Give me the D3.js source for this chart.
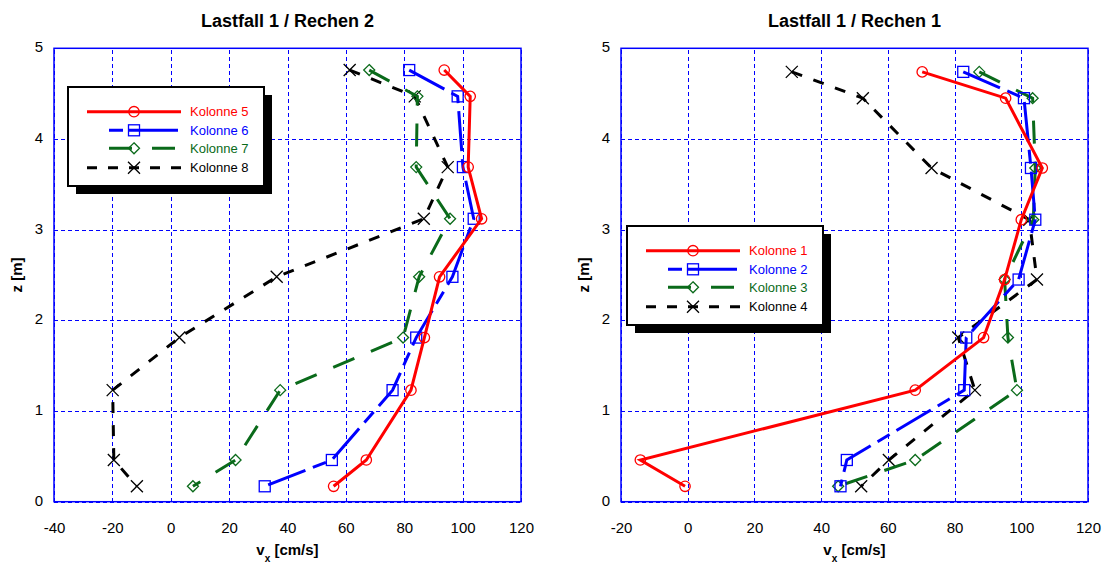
<!DOCTYPE html>
<html>
<head>
<meta charset="utf-8">
<script src="https://cdn.jsdelivr.net/npm/d3@7"></script>
<style>
  body { margin: 0; background: #fff; }
  svg { font-family: "Liberation Sans", Arial, sans-serif; }
</style>
</head>
<body>
<div id="chart"></div>
<script>
// Geschwindigkeitsprofile v_x ueber z, zwei Rechen

// z heights of the measuring points [m]
var zRechen2 = [4.76, 4.47, 3.69, 3.12, 2.48, 1.81, 1.23, 0.46, 0.17];
var zRechen1 = [4.74, 4.45, 3.68, 3.11, 2.45, 1.81, 1.23, 0.46, 0.17];

// v_x [cm/s], Rechen 2
var kolonne5 = [93.7, 102.6, 101.9, 106.5, 92.1, 86.9, 82.3, 67, 55.8];
var kolonne6 = [81.7, 98.3, 100.1, 103.8, 96.5, 84.1, 76, 55.2, 32.2];
var kolonne7 = [68, 84.5, 84.1, 95.7, 85.1, 79.6, 37.5, 22.2, 7.6];
var kolonne8 = [61.3, 83.6, 94.9, 86.7, 36.3, 2.95, -19.9, -19.5, -11.6];

// v_x [cm/s], Rechen 1
var kolonne1 = [70.3, 95.3, 106.3, 100, 95, 88.7, 68.2, -14.2, -0.8];
var kolonne2 = [82.6, 100.8, 102.9, 104.2, 99.2, 83.5, 82.9, 47.7, 45.8];
var kolonne3 = [87.4, 103.4, 104.2, 103.6, 95, 96, 98.7, 68.2, 45.1];
var kolonne4 = [31.2, 52.5, 73.1, 102.4, 104.7, 81.1, 86.1, 60.3, 52];

var xTicksRechen2 = [-40, -20, 0, 20, 40, 60, 80, 100, 120];
var xTicksRechen1 = [-20, 0, 20, 40, 60, 80, 100, 120];
var zTicks = [0, 1, 2, 3, 4, 5];

var red = "#ff0000", blue = "#0000ff", green = "#0a6a1a", black = "#000000";

// line + marker styles, same order for both charts
var styles = [
  { color: red,   dash: null,          marker: "circle" },
  { color: blue,  dash: "40,8,14,8",   marker: "square" },
  { color: green, dash: "23,18",       marker: "diamond" },
  { color: black, dash: "11,12",       marker: "cross" }
];

var width = 1109, height = 566;

var svg = d3.select("#chart")
  .append("svg")
    .attr("width", width)
    .attr("height", height);

// plain hyphen minus like the original
var fmt = function(d) { return String(d); };

function drawMarker(g, type, x, y, color) {
  if (type == "circle") {
    g.append("circle").attr("cx", x).attr("cy", y).attr("r", 5.2)
      .attr("fill", "none").attr("stroke", color).attr("stroke-width", 1.3);
  } else if (type == "square") {
    g.append("rect").attr("x", x - 5.5).attr("y", y - 5.5).attr("width", 11).attr("height", 11)
      .attr("fill", "none").attr("stroke", color).attr("stroke-width", 1.3);
  } else if (type == "diamond") {
    g.append("path").attr("d", "M" + x + "," + (y - 5.5) + "L" + (x + 5.5) + "," + y + "L" + x + "," + (y + 5.5) + "L" + (x - 5.5) + "," + y + "Z")
      .attr("fill", "none").attr("stroke", color).attr("stroke-width", 1.3);
  } else {
    g.append("path").attr("d", "M" + (x - 6) + "," + (y - 6) + "L" + (x + 6) + "," + (y + 6) + "M" + (x + 6) + "," + (y - 6) + "L" + (x - 6) + "," + (y + 6))
      .attr("fill", "none").attr("stroke", color).attr("stroke-width", 1.3);
  }
}

function drawPanel(opts) {
  var left = opts.left, top = 48.3, w = 467, h = 453.4;

  var x = d3.scaleLinear().domain(opts.xDomain).range([left, left + w]);
  var y = d3.scaleLinear().domain([0, 5]).range([top + h, top]);

  var g = svg.append("g");

  // grid via axes
  var gx = g.append("g")
    .attr("transform", "translate(0," + (top + h) + ")")
    .call(d3.axisBottom(x).tickValues(opts.xTicks).tickFormat(fmt).tickSize(-h).tickPadding(21));
  gx.select(".domain").remove();
  gx.selectAll("line").attr("stroke", blue).attr("stroke-dasharray", "4,3")
    .attr("stroke-width", 1).attr("shape-rendering", "crispEdges");
  gx.selectAll("text").attr("font-size", 15).attr("fill", "#000");

  var gy = g.append("g")
    .attr("transform", "translate(" + left + ",0)")
    .call(d3.axisLeft(y).tickValues(zTicks).tickFormat(fmt).tickSize(-w).tickPadding(11));
  gy.select(".domain").remove();
  gy.selectAll("line").attr("stroke", blue).attr("stroke-dasharray", "4,3")
    .attr("stroke-width", 1).attr("shape-rendering", "crispEdges");
  gy.selectAll("text").attr("font-size", 15).attr("fill", "#000").attr("dy", "0.23em");

  g.append("rect")
    .attr("x", left).attr("y", top).attr("width", w).attr("height", h)
    .attr("fill", "none").attr("stroke", blue).attr("stroke-width", 1.5);

  // title and axis titles
  g.append("text")
    .attr("x", left + w / 2).attr("y", 26.5)
    .attr("text-anchor", "middle").attr("font-size", 18).attr("font-weight", "bold")
    .text(opts.title);

  var xt = g.append("text")
    .attr("x", left + w / 2).attr("y", 555)
    .attr("text-anchor", "middle").attr("font-size", 15).attr("font-weight", "bold");
  xt.append("tspan").text("v");
  xt.append("tspan").attr("font-size", 10).attr("dy", 7).text("x");
  xt.append("tspan").attr("dy", -7).text(" [cm/s]");

  g.append("text")
    .attr("transform", "translate(" + (left - 32) + "," + (top + h / 2) + ") rotate(-90)")
    .attr("text-anchor", "middle").attr("font-size", 15).attr("font-weight", "bold")
    .text("z [m]");

  // series, drawn from last to first so red sits on top
  var line = d3.line()
    .x(function(d) { return x(d.v); })
    .y(function(d) { return y(d.z); });

  var series = opts.series.map(function(s, i) {
    return {
      name: opts.names[i],
      style: styles[i],
      points: s.map(function(v, j) { return { v: v, z: opts.z[j] }; })
    };
  });

  series.slice().reverse().forEach(function(s) {
    var sg = g.append("g");
    sg.append("path")
      .datum(s.points)
      .attr("d", line)
      .attr("fill", "none")
      .attr("stroke", s.style.color)
      .attr("stroke-width", 3)
      .attr("stroke-dasharray", s.style.dash);
    s.points.forEach(function(p) {
      drawMarker(sg, s.style.marker, x(p.v), y(p.z), s.style.color);
    });
  });

  // legend
  var lx = opts.legend[0], ly = opts.legend[1], lw = 196, lh = 99;
  var lg = g.append("g");
  lg.append("rect").attr("x", lx + 8).attr("y", ly + 8).attr("width", lw).attr("height", lh).attr("fill", "#000");
  lg.append("rect").attr("x", lx).attr("y", ly).attr("width", lw).attr("height", lh)
    .attr("fill", "#fff").attr("stroke", "#000").attr("stroke-width", 2);

  var rows = [24.7, 43.3, 61.3, 80.7];
  series.forEach(function(s, i) {
    var ry = ly + rows[i];
    lg.append("line")
      .attr("x1", lx + 19).attr("x2", lx + 113).attr("y1", ry).attr("y2", ry)
      .attr("stroke", s.style.color).attr("stroke-width", 3)
      .attr("stroke-dasharray", s.style.dash ? (i == 1 ? "0,22,14,5,50,30" : i == 2 ? "0,22,23,20,23,20" : "10,11") : null);
    drawMarker(lg, s.style.marker, lx + 66, ry, s.style.color);
    lg.append("text")
      .attr("x", lx + 122).attr("y", ry + 4.7)
      .attr("font-size", 13).attr("fill", s.style.color)
      .text(s.name);
  });
}

drawPanel({
  left: 54,
  xDomain: [-40, 120],
  xTicks: xTicksRechen2,
  title: "Lastfall 1 / Rechen 2",
  z: zRechen2,
  series: [kolonne5, kolonne6, kolonne7, kolonne8],
  names: ["Kolonne 5", "Kolonne 6", "Kolonne 7", "Kolonne 8"],
  legend: [68, 87]
});

drawPanel({
  left: 621,
  xDomain: [-20, 120],
  xTicks: xTicksRechen1,
  title: "Lastfall 1 / Rechen 1",
  z: zRechen1,
  series: [kolonne1, kolonne2, kolonne3, kolonne4],
  names: ["Kolonne 1", "Kolonne 2", "Kolonne 3", "Kolonne 4"],
  legend: [627, 226]
});
</script>
</body>
</html>
